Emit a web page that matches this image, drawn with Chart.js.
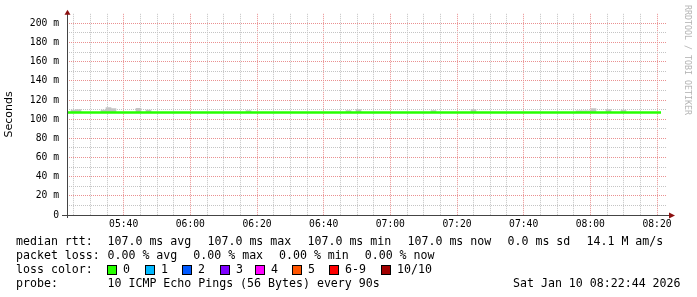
<!DOCTYPE html>
<html><head><meta charset="utf-8">
<script src="https://cdn.jsdelivr.net/npm/chart.js@4.4.1/dist/chart.umd.min.js"></script>
<style>
html,body{margin:0;padding:0;background:#fff;}
#wrap{position:relative;width:697px;height:297px;overflow:hidden;background:#fff;}
#c{position:absolute;left:0;top:0;}
.t{position:absolute;font-family:'DejaVu Sans Mono',monospace;font-size:11.6px;line-height:14px;white-space:pre;color:#000;}
.sq{position:absolute;width:8px;height:8px;border:1px solid #000;}
#wm{position:absolute;left:692px;top:5px;transform:rotate(90deg);transform-origin:0 0;font-family:'DejaVu Sans Mono',monospace;font-size:8.3px;line-height:9px;white-space:pre;color:#b4b4b4;}
</style></head><body>
<div id="wrap">
<canvas id="c" width="697" height="297"></canvas>
<div id="wm">RRDTOOL / TOBI OETIKER</div>
</div>
<script>
// ---- data ----
const medianTimes = ["05:23:00", "08:21:12"];
const medianValues = [107.0, 107.0];

const smokeTimes = ["05:24:57","05:26:27","05:33:57","05:35:27","05:36:57","05:44:27","05:47:27",
  "06:17:27","06:47:27","06:50:27","07:12:57","07:24:57","07:56:27","07:57:57","07:59:27","08:00:57","08:05:27","08:09:57"];
const smokeLow  = [107.0,107.0,107.0,107.0,107.0,107.0,107.0,107.0,107.0,107.0,107.0,107.0,107.0,107.0,107.0,107.0,107.0,107.0];
const smokeHigh = [109.4,110.1,109.4,112.1,111.1,111.4,109.4,109.0,109.0,110.1,109.0,110.1,108.7,108.7,108.7,111.1,110.1,109.4];

const xRange = ["05:23:00", "08:23:00"];
const xLabels = ["05:40","06:00","06:20","06:40","07:00","07:20","07:40","08:00","08:20"];
const yLabels = ["0","20 m","40 m","60 m","80 m","100 m","120 m","140 m","160 m","180 m","200 m"];

const rttStats = ["107.0 ms avg", "107.0 ms max", "107.0 ms min", "107.0 ms now", "0.0 ms sd", "14.1 M am/s"];
const lossStats = ["0.00 % avg", "0.00 % max", "0.00 % min", "0.00 % now"];
const lossLabels = ["0","1","2","3","4","5","6-9","10/10"];
const lossColors = ["#26ff00","#00b8ff","#0059ff","#7e00ff","#ff00ff","#ff5500","#ff0000","#a10000"];
const probeText = "10 ICMP Echo Pings (56 Bytes) every 90s";
const dateText = "Sat Jan 10 08:22:44 2026";

// ---- helpers ----
function toMin(s){const p=s.split(':').map(Number);return p[0]*60+p[1]+(p[2]||0)/60;}
function fmt(m){const r=Math.round(m);const h=Math.floor(r/60), mm=r%60;return String(h).padStart(2,'0')+':'+String(mm).padStart(2,'0');}

// ---- text below chart ----
const wrap = document.getElementById('wrap');
function txt(s, x, y){const d=document.createElement('div');d.className='t';d.style.left=x+'px';d.style.top=y+'px';d.textContent=s;wrap.appendChild(d);}
const rttX = [107.5, 207.5, 307.5, 407.5, 507.5, 586.5];
const lossX = [107.5, 193.3, 279, 364.7];
txt("median rtt:", 16, 234);
rttStats.forEach((s,i)=>txt(s, rttX[i], 234));
txt("packet loss:", 16, 248);
lossStats.forEach((s,i)=>txt(s, lossX[i], 248));
txt("loss color:", 16, 262);
const sqX = [107,145,182,220,255,292,329,381];
lossLabels.forEach((lab,i)=>{
  const s=document.createElement('div'); s.className='sq';
  s.style.left=sqX[i]+'px'; s.style.top='265px'; s.style.background=lossColors[i];
  wrap.appendChild(s);
  txt(lab, sqX[i]+16, 262);
});
txt("probe:", 16, 276);
txt(probeText, 107.5, 276);
txt(dateText, 513, 276);

// ---- chart ----
const MAJOR = '#ea9090', MINOR = '#c4c4c4', AXIS = '#444444', ARROW = '#8b1010';
const axisArrows = {
  id:'axisArrows',
  afterDraw(chart){
    const {ctx, chartArea:a} = chart;
    ctx.save();
    ctx.strokeStyle = AXIS; ctx.lineWidth = 1;
    ctx.beginPath();
    ctx.moveTo(a.left+0.5, a.bottom+3); ctx.lineTo(a.left+0.5, a.top);
    ctx.moveTo(a.left-5, a.bottom+0.5); ctx.lineTo(a.right+3, a.bottom+0.5);
    ctx.stroke();
    ctx.fillStyle = ARROW;
    ctx.beginPath();
    ctx.moveTo(a.left+0.5, a.top-4); ctx.lineTo(a.left-2.5, a.top+1); ctx.lineTo(a.left+3.5, a.top+1); ctx.closePath(); ctx.fill();
    ctx.beginPath();
    ctx.moveTo(a.right+8, a.bottom+0.5); ctx.lineTo(a.right+2, a.bottom-2.5); ctx.lineTo(a.right+2, a.bottom+3.5); ctx.closePath(); ctx.fill();
    ctx.restore();
  }
};

// tick builders: every `step`, optionally skipping multiples of `skip`, capped at `cap`
function stepTicks(step, skip, cap){
  return s => {
    const out=[];
    const hi = cap!==undefined ? Math.min(cap, s.max) : s.max;
    for(let v=Math.ceil(s.min/step-1e-9)*step; v<=hi+1e-9; v+=step){
      if(skip && Math.round(v)%skip===0) continue;
      out.push({value:v});
    }
    s.ticks = out;
  };
}

const tickFont = {family:'DejaVu Sans Mono', size:9.7};
const xMin = toMin(xRange[0]), xMax = toMin(xRange[1]);
new Chart(document.getElementById('c'), {
  type:'line',
  data:{
    datasets:[
      {type:'line', order:0, xAxisID:'x', yAxisID:'y',
       data: medianTimes.map((t,i)=>({x:toMin(t), y:medianValues[i]})),
       borderColor:'#26ff00', borderWidth:2.5, pointRadius:0, fill:false, tension:0},
      {type:'bar', order:1, xAxisID:'x', yAxisID:'y',
       data: smokeTimes.map((t,i)=>({x:toMin(t), y:[smokeLow[i], smokeHigh[i]]})),
       backgroundColor:'#c4c4c4', borderWidth:0, barThickness:5, grouped:false}
    ]
  },
  options:{
    responsive:false, animation:false, devicePixelRatio:1,
    layout:{padding:{left:0, right:30, top:12, bottom:62}},
    plugins:{legend:{display:false}, tooltip:{enabled:false}},
    scales:{
      xMinor:{type:'linear', position:'bottom', min:xMin, max:xMax, offset:false, weight:0,
        afterBuildTicks: stepTicks(5, 20),
        afterFit(s){s.height=0;},
        grid:{offset:false, drawTicks:false, lineWidth:1, color:MINOR},
        border:{display:false, dash:[1,1]},
        ticks:{display:false, autoSkip:false}
      },
      x:{type:'linear', position:'bottom', min:xMin, max:xMax, offset:false, weight:1,
        afterBuildTicks: stepTicks(20),
        afterFit(s){s.height=20;},
        grid:{offset:false, drawTicks:false, lineWidth:1, color:MAJOR},
        border:{display:false, dash:[1,1]},
        ticks:{autoSkip:false, maxRotation:0, minRotation:0, padding:4, color:'#000', font:tickFont,
          callback:v=>{const s=fmt(v); return xLabels.includes(s)?s:'';}}
      },
      yMinor:{type:'linear', position:'left', min:0, max:210, weight:0,
        afterBuildTicks: stepTicks(10, 20, 200),
        afterFit(s){s.width=0;},
        grid:{drawTicks:false, lineWidth:1, color:MINOR},
        border:{display:false, dash:[1,1]},
        ticks:{display:false, autoSkip:false}
      },
      y:{type:'linear', position:'left', min:0, max:210, weight:1,
        afterBuildTicks: stepTicks(20, 0, 200),
        afterFit(s){s.width=67;},
        title:{display:true, text:'Seconds', color:'#000', font:{family:'DejaVu Sans', size:11}, padding:{top:3,bottom:0}},
        grid:{drawTicks:false, lineWidth:1, color:MAJOR},
        border:{display:false, dash:[1,1]},
        ticks:{autoSkip:false, padding:8, color:'#000', font:tickFont,
          callback:v=>{const r=Math.round(v); return yLabels[r/20] || '';}}
      }
    }
  },
  plugins:[axisArrows]
});
</script>
</body></html>
